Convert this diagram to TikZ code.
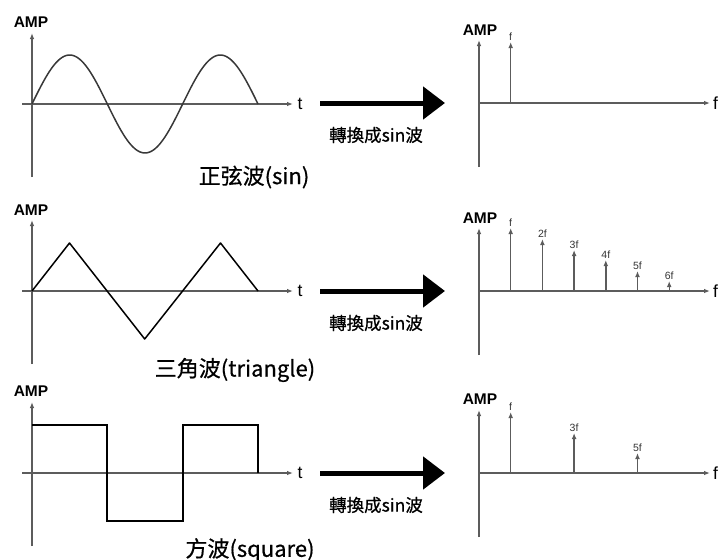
\documentclass[tikz,border=0pt]{standalone}
\usepackage{fontspec}
\setmainfont{Liberation Sans}
\newfontfamily\cjk[FakeBold=0.6]{Noto Sans CJK TC}
\usepackage{tikz}
\usetikzlibrary{positioning,arrows.meta}
\definecolor{axiscolor}{gray}{0.36}
\definecolor{wavecolor}{gray}{0.22}
\tikzset{
  axis/.style={draw=axiscolor, line width=1.4pt, -{Latex[length=6pt,width=4.6pt]}},
  spike/.style={draw=axiscolor, line width=1.4pt, -{Latex[length=6pt,width=4.8pt]}},
  wave/.style={draw=wavecolor, line width=1.5pt, line join=round},
  bigarrow/.style={draw=black, line width=5pt, -{Triangle[length=22pt,width=32pt]}},
  amp/.style={font=\fontsize{15.5}{16}\selectfont\bfseries, inner sep=0pt},
  axlbl/.style={font=\fontsize{17.5}{18}\selectfont, inner sep=0pt},
  harm/.style={font=\fontsize{10.5}{11}\selectfont, text=black!80, inner sep=0.6pt},
  wavename/.style={font=\fontsize{22}{22}\cjk, inner sep=0pt},
  conv/.style={font=\fontsize{17.5}{18}\cjk, inner sep=0pt},
}

\begin{document}
\begin{tikzpicture}[x=1pt,y=-1pt]
\useasboundingbox (0,0) rectangle (721,560);

% time domain axes, one per row
\foreach \r/\oy in {1/104, 2/291, 3/473} {
  \coordinate (tbot\r) at (32,\oy+73);
  \coordinate (ttop\r) at (32,\oy-71);
  \coordinate (tleft\r) at (22,\oy);
  \coordinate (tend\r) at (293,\oy);
  \draw[axis] (tbot\r) -- (ttop\r);
  \draw[axis] (tleft\r) -- (tend\r);
  \node[axlbl, right=4.5pt of tend\r] (t\r) {t};
}
\node[amp] (amp1) at (31,22.5) {AMP};
\node[amp] (amp2) at (31,210) {AMP};
\node[amp] (amp3) at (31,391.5) {AMP};

% sine
\draw[wave] plot[domain=0:540, samples=120] ({32+\x/180*75.33},{104-49*sin(\x)});
\node[wavename] (sinname) at (254,177) {正弦波(sin)};

% triangle
\draw[wave, draw=black] (32,291) -- (69.5,243) -- (144.7,339) -- (220.5,243) -- (258,291);
\node[wavename] (triname) at (235,370) {三角波(triangle)};

% square
\draw[wave, draw=black, line join=miter] (32,425) -- (107,425) -- (107,521) -- (183,521) -- (183,425) -- (258,425) -- (258,473);
\node[wavename] (sqname) at (250,550) {方波(square)};

% conversion arrows
\foreach \r/\oy in {1/103, 2/291, 3/473} {
  \coordinate (cs\r) at (320,\oy);
  \coordinate (ce\r) at (445,\oy);
  \draw[bigarrow] (cs\r) -- (ce\r);
  \node[conv] (conv\r) at (376,\oy+32) {轉換成sin波};
}

% frequency domain axes
\foreach \r/\oy in {1/103, 2/291, 3/473} {
  \coordinate (fo\r) at (479,\oy);
  \coordinate (fbot\r) at (479,\oy+64);
  \coordinate (ftop\r) at (479,\oy-63);
  \coordinate (fend\r) at (710,\oy);
  \draw[axis] (fbot\r) -- (ftop\r);
  \draw[axis] (fo\r) -- (fend\r);
  \node[axlbl, right=3pt of fend\r] (f\r) {f};
}
\node[amp] (famp1) at (480,30) {AMP};
\node[amp] (famp2) at (480,218) {AMP};
\node[amp] (famp3) at (480,399.5) {AMP};

% harmonics
\foreach \k/\h/\lab in {1/61/f}
  \draw[spike] (479+\k*31.7,103) -- ++(0,-\h) node[harm, above] {\lab};
\foreach \k/\h/\lab in {1/63/f, 2/52/2f, 3/41/3f, 4/31/4f, 5/20/5f, 6/10/6f}
  \draw[spike] (479+\k*31.7,291) -- ++(0,-\h) node[harm, above] {\lab};
\foreach \k/\h/\lab in {1/61/f, 3/40/3f, 5/20/5f}
  \draw[spike] (479+\k*31.7,473) -- ++(0,-\h) node[harm, above] {\lab};
\end{tikzpicture}
\end{document}
